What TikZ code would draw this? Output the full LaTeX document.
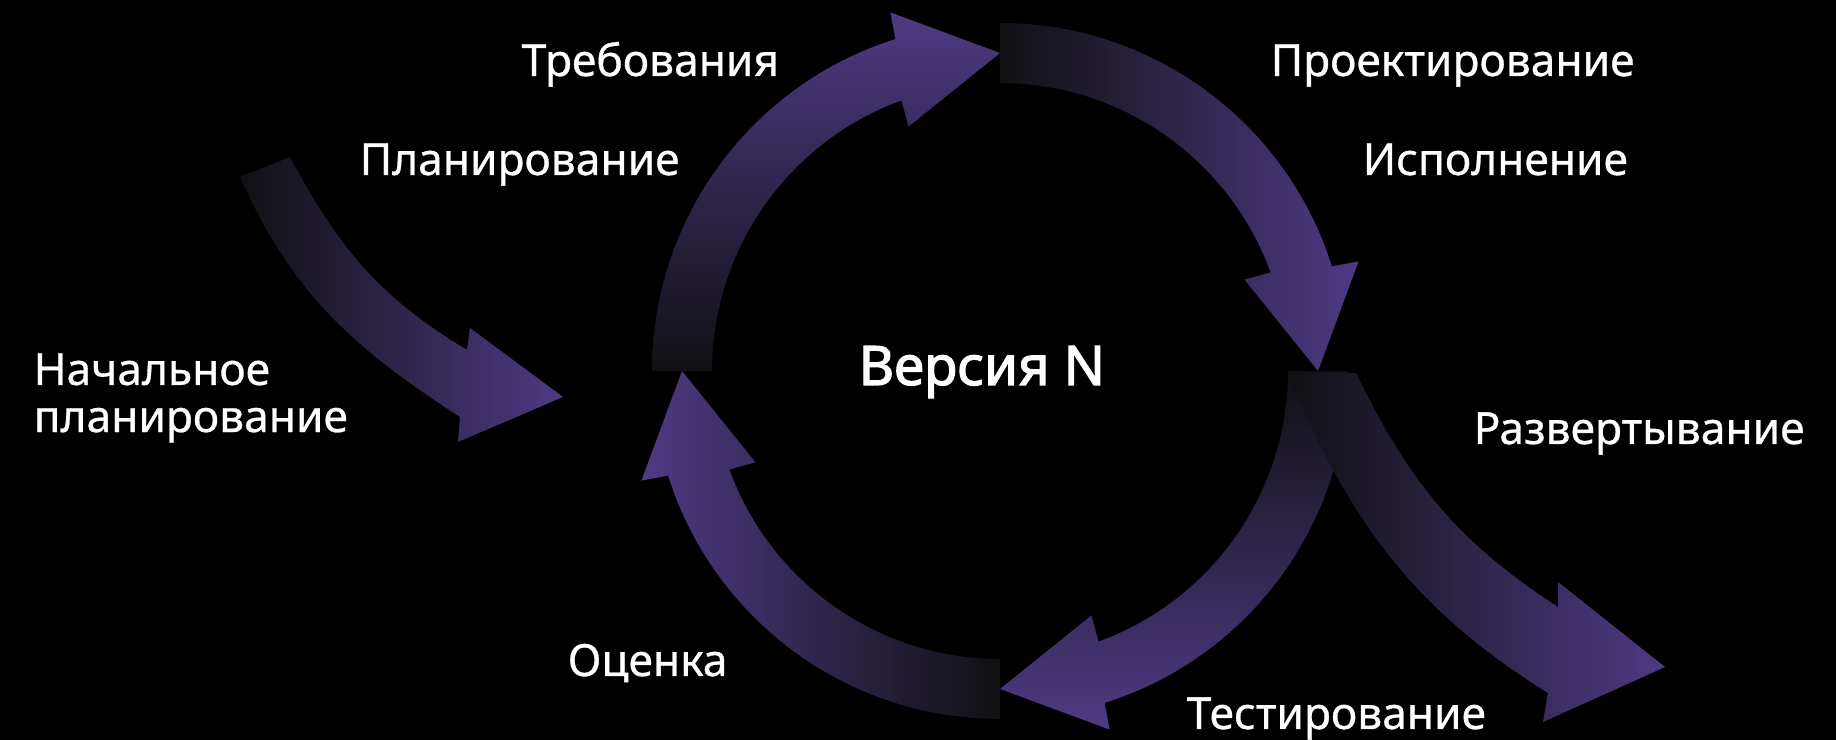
\documentclass[tikz,border=0pt]{standalone}
\usepackage{fontspec}
\setmainfont{Noto Sans}
\newfontfamily\phasefont{Noto Sans}[FakeBold=0.7]
\newfontfamily\versionfont{Noto Sans}[FakeBold=2.2]

\begin{document}
\begin{tikzpicture}[
    x=0.01cm, y=0.01cm,
    phase/.style={text=white, inner sep=0pt, anchor=base west, font=\phasefont\fontsize{12.6}{13.4}\selectfont},
    version/.style={text=white, inner sep=0pt, anchor=base west, font=\versionfont\fontsize{15.5}{18}\selectfont}
]

% Colors
\definecolor{arrowdark}{RGB}{16,16,18}
\definecolor{arrowmid}{RGB}{44,38,62}
\definecolor{arrowpurple}{RGB}{78,58,132}

% Background
\useasboundingbox (0,0) rectangle (1836,740);
\fill[black] (0,0) rectangle (1836,740);

% Cycle
\coordinate (c) at (1000,369);
\begin{scope}[shift={(c)}]
% up-left quarter
\shade[bottom color=arrowdark, middle color=arrowmid, top color=arrowpurple]
  (180:348) arc[start angle=180, end angle=107.5, radius=348]
  -- (107:375) -- (90:318) -- (110.5:261) -- (110:288)
  arc[start angle=110, end angle=180, radius=288] -- cycle;
% up-right quarter
\shade[left color=arrowdark, middle color=arrowmid, right color=arrowpurple]
  (90:348) arc[start angle=90, end angle=17.5, radius=348]
  -- (17:375) -- (0:318) -- (20.5:261) -- (20:288)
  arc[start angle=20, end angle=90, radius=288] -- cycle;
% down-right quarter
\shade[top color=arrowdark, middle color=arrowmid, bottom color=arrowpurple]
  (0:348) arc[start angle=0, end angle=-72.5, radius=348]
  -- (-73:375) -- (-90:318) -- (-69.5:261) -- (-70:288)
  arc[start angle=-70, end angle=0, radius=288] -- cycle;
% down-left quarter
\shade[right color=arrowdark, middle color=arrowmid, left color=arrowpurple]
  (-90:348) arc[start angle=-90, end angle=-162.5, radius=348]
  -- (-163:375) -- (-180:318) -- (-159.5:261) -- (-160:288)
  arc[start angle=-160, end angle=-90, radius=288] -- cycle;
\end{scope}

% Entry arrow
\shade[left color=arrowdark, middle color=arrowmid, right color=arrowpurple]
  (240,563) -- (290,583) to[out=-62, in=149] (467,390)
  -- (470,412) -- (563,343) -- (458,298) -- (460,323)
  to[out=147, in=-66] cycle;

% Exit arrow
\shade[left color=arrowdark, middle color=arrowmid, right color=arrowpurple]
  (1287,367) -- (1356,367) to[out=-64, in=147] (1558,133)
  -- (1558,158) -- (1665,73) -- (1543,18) -- (1548,47)
  to[out=148, in=-67] cycle;

% Labels
\node[phase] (req) at (521,664) {Требования};
\node[phase] (plan) at (359,565) {Планирование};
\node[phase] (design) at (1270,664) {Проектирование};
\node[phase] (exec) at (1362,565) {Исполнение};
\node[phase, anchor=west, align=left] (init) at (33,342) {Начальное\\планирование};
\node[version] (ver) at (858,355) {Версия N};
\node[phase] (deploy) at (1473,296) {Развертывание};
\node[phase] (eval) at (567,64) {Оценка};
\node[phase] (test) at (1186,11) {Тестирование};

\end{tikzpicture}
\end{document}
